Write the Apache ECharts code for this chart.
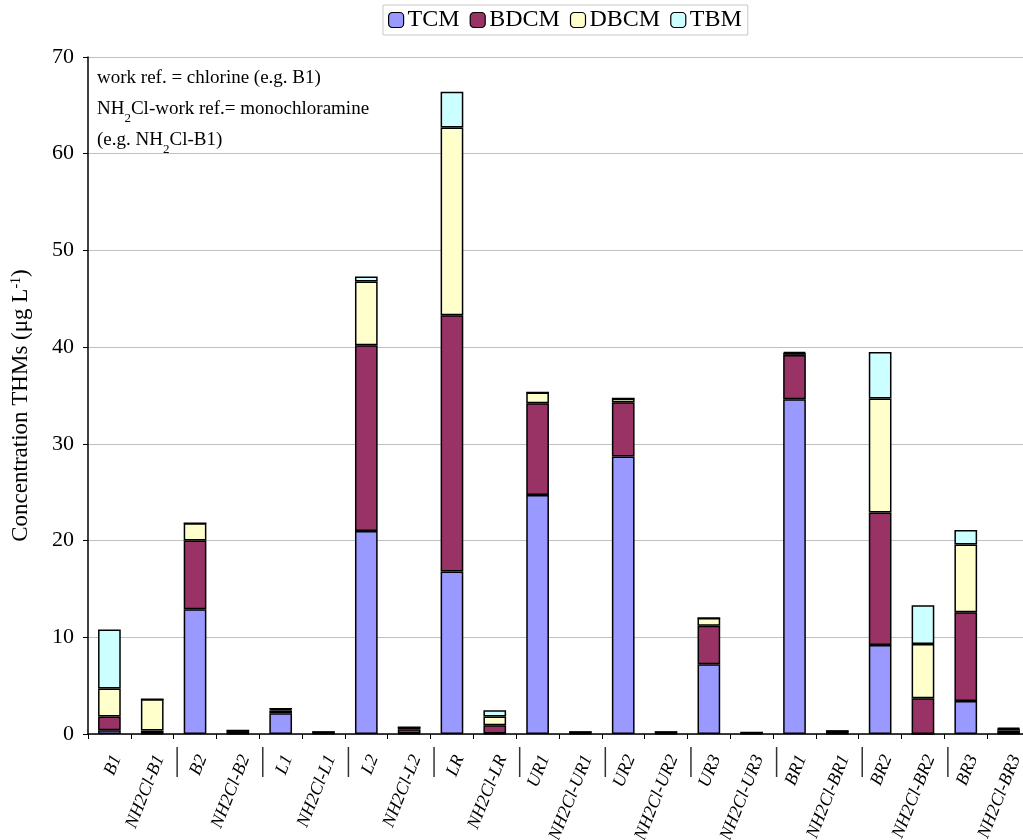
<!DOCTYPE html>
<html><head><meta charset="utf-8">
<script src="https://cdn.jsdelivr.net/npm/echarts@6/dist/echarts.min.js"></script>
<style>html,body{margin:0;padding:0;background:#fff}#c{width:1023px;height:840px}</style>
</head><body><div id="c"></div>
<script>
const categories = ['B1','NH2Cl-B1','B2','NH2Cl-B2','L1','NH2Cl-L1','L2','NH2Cl-L2','LR','NH2Cl-LR','UR1','NH2Cl-UR1','UR2','NH2Cl-UR2','UR3','NH2Cl-UR3','BR1','NH2Cl-BR1','BR2','NH2Cl-BR2','BR3','NH2Cl-BR3'];
const TCM  = [0.4, 0.05, 12.9, 0.05, 2.15, 0.05, 21.0, 0.05, 16.8, 0.05, 24.7, 0.05, 28.7, 0.05, 7.2, 0.05, 34.6, 0.05, 9.2, 0.0, 3.4, 0.05];
const BDCM = [1.4, 0.3, 7.1, 0.25, 0.3, 0.1, 19.2, 0.45, 26.5, 0.85, 9.5, 0.1, 5.6, 0.1, 4.0, 0.05, 4.6, 0.2, 13.7, 3.7, 9.2, 0.3];
const DBCM = [2.9, 3.25, 1.8, 0.05, 0.15, 0.05, 6.6, 0.2, 19.4, 0.9, 1.1, 0.05, 0.4, 0.05, 0.8, 0.05, 0.2, 0.05, 11.8, 5.6, 7.0, 0.2];
const TBM  = [6.1, 0, 0, 0, 0, 0, 0.5, 0, 3.7, 0.65, 0, 0, 0, 0, 0, 0, 0.1, 0, 4.8, 4.0, 1.5, 0.1];
const yTicks = [0, 10, 20, 30, 40, 50, 60, 70];

const FONT = '"Liberation Serif","Times New Roman",serif';
const chart = echarts.init(document.getElementById('c'));
function s(name, data, color) {
  return { name, type: 'bar', stack: 't', data, barCategoryGap: '47%',
    itemStyle: { color, borderColor: '#000', borderWidth: 1.5 } };
}
chart.setOption({
  animation: false,
  textStyle: { fontFamily: FONT },
  legend: {
    top: 5, left: 383, itemWidth: 15, itemHeight: 15, itemGap: 10,
    borderColor: '#c8c8c8', borderWidth: 1, padding: [3, 6, 3, 5],
    textStyle: { fontFamily: FONT, fontSize: 24, color: '#000', padding: [0, 0, 0, -1] },
    itemStyle: { borderColor: '#000', borderWidth: 1.2 },
    data: ['TCM', 'BDCM', 'DBCM', 'TBM']
  },
  grid: { left: 88, top: 57, width: 942, bottom: 106, containLabel: false, outerBoundsMode: 'none' },
  xAxis: {
    type: 'category', data: categories,
    axisLine: { lineStyle: { color: '#000', width: 1.5 } },
    axisTick: { show: true, length: 5, lineStyle: { color: '#000' } },
    axisLabel: { rotate: 68, interval: 0, margin: 19,
      formatter: v => '{a|' + v + '}',
      rich: { a: { fontFamily: FONT, fontStyle: 'italic', fontSize: 18, color: '#000', lineHeight: 34, verticalAlign: 'bottom' } } }
  },
  yAxis: {
    type: 'value', min: yTicks[0], max: yTicks[yTicks.length - 1], interval: 10,
    name: 'Concentration THMs (μg L{sup|-1})', nameLocation: 'middle', nameGap: 55,
    nameTextStyle: { fontFamily: FONT, fontSize: 23, color: '#000', padding: [0, 20, 0, 0],
      rich: { sup: { fontFamily: FONT, fontSize: 14, color: '#000', verticalAlign: 'top', padding: [0, 0, 10, 0] } } },
    axisLine: { show: true, lineStyle: { color: '#000', width: 1.5 } },
    axisTick: { show: true, length: 5, lineStyle: { color: '#000' } },
    axisLabel: { fontFamily: FONT, fontSize: 22, color: '#000', margin: 14 },
    splitLine: { lineStyle: { color: '#c0c0c0', width: 1 } }
  },
  series: [s('TCM', TCM, '#9999ff'), s('BDCM', BDCM, '#993366'), s('DBCM', DBCM, '#ffffcc'), s('TBM', TBM, '#ccffff')]
});
const graphics = [{
  type: 'text', id: 'note', left: 97, top: 63,
  style: {
    text: 'work ref. = chlorine (e.g. B1)\nNH{sub|2}Cl-work ref.= monochloramine\n(e.g. NH{sub|2}Cl-B1)',
    font: '19px "Liberation Serif", serif', lineHeight: 31, fill: '#000',
    rich: { sub: { font: '13px "Liberation Serif", serif', fill: '#000', verticalAlign: 'bottom', padding: [9, 0, 0, 0], lineHeight: 31 } }
  }
}];
const band = 942 / categories.length;
for (let i = 2; i < categories.length; i += 2) {
  const c = chart.convertToPixel({ xAxisIndex: 0 }, categories[i]);
  const x = c - band / 2 + 3.5;
  graphics.push({ type: 'line', id: 'm' + i, shape: { x1: x, y1: 747, x2: x, y2: 777 }, style: { stroke: '#333', lineWidth: 1.5 } });
}
chart.setOption({ graphic: graphics });
</script></body></html>
